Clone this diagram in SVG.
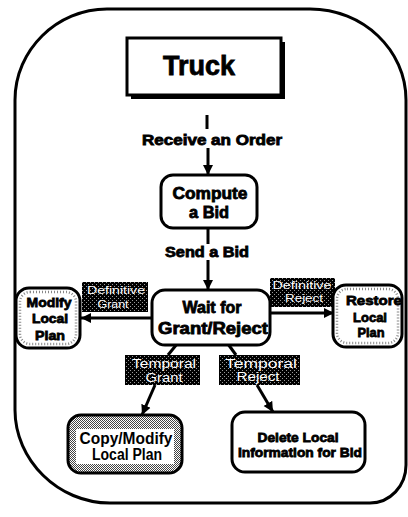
<svg xmlns="http://www.w3.org/2000/svg" width="408" height="517" viewBox="0 0 408 517">
<defs>
<style>
.bt{font-family:"Liberation Sans",Arial,sans-serif;font-weight:bold;fill:#000;stroke:#000;stroke-width:0.8;text-anchor:middle}
.lt{font-family:"Liberation Sans",Arial,sans-serif;fill:#fff;text-anchor:middle;font-size:12px}
.sm{font-size:11px}
.box{fill:#fff;stroke:#000;stroke-width:3}
.lbl{fill:url(#dark);stroke:none}
.con{fill:none;stroke:#000;stroke-width:3}
.speck{fill:none;stroke:#888;stroke-width:2.5;stroke-dasharray:1 2}
.halo{stroke:#fff;stroke-width:2.5;paint-order:stroke}
</style>
<pattern id="dark" width="4" height="4" patternUnits="userSpaceOnUse">
<rect width="4" height="4" fill="#000"/>
<rect x="0" y="0" width="1" height="1" fill="#999"/>
<rect x="2" y="2" width="1" height="1" fill="#999"/>
</pattern>
<pattern id="gray" width="2" height="2" patternUnits="userSpaceOnUse">
<rect width="2" height="2" fill="#fff"/>
<rect x="0" y="0" width="1" height="1" fill="#444"/>
<rect x="1" y="1" width="1" height="1" fill="#444"/>
</pattern>
<marker id="ah" viewBox="0 0 10 10" refX="10" refY="5" markerWidth="10" markerHeight="11" markerUnits="userSpaceOnUse" orient="auto">
<path d="M0,0 L10,5 L0,10 Z" fill="#000"/>
</marker>
</defs>

<g id="frame">
<path d="M15,100 C15,50 57,9 107,9 L310,9 C363,9 406,50 406,100 L406,465 C406,486 390,503 370,503 L110,503 C58,503 15,460 15,410 Z" fill="none" stroke="#000" stroke-width="3"/>
</g>

<g id="connectors">
<path class="con" d="M207,115 V129"/>
<text class="bt" x="212" y="145" font-size="14" textLength="140" lengthAdjust="spacingAndGlyphs">Receive an Order</text>
<path class="con" d="M208,148 V175" marker-end="url(#ah)"/>
<path class="con" d="M208,228 V244"/>
<text class="bt" x="207" y="257" font-size="14" textLength="84" lengthAdjust="spacingAndGlyphs">Send a Bid</text>
<path class="con" d="M208,260 V290" marker-end="url(#ah)"/>
<path class="con" d="M152,318 H81" marker-end="url(#ah)"/>
<path class="con" d="M270,313 H334" marker-end="url(#ah)"/>
<path class="con" d="M177,344 L168,355"/>
<path class="con" d="M155,385 L142,415" marker-end="url(#ah)"/>
<path class="con" d="M228,344 L236,355"/>
<path class="con" d="M257,385 L273,412" marker-end="url(#ah)"/>
<g id="lbl-def-grant">
<rect class="lbl" x="82" y="282" width="66" height="30"/>
<text class="lt sm" x="116" y="294" textLength="58" lengthAdjust="spacingAndGlyphs">Definitive</text>
<text class="lt sm" x="113" y="308" textLength="31" lengthAdjust="spacingAndGlyphs">Grant</text>
</g>
<g id="lbl-def-reject">
<rect class="lbl" x="270" y="278" width="65" height="29"/>
<text class="lt sm" x="302" y="289" textLength="59" lengthAdjust="spacingAndGlyphs">Definitive</text>
<text class="lt sm" x="304" y="302" textLength="38" lengthAdjust="spacingAndGlyphs">Reject</text>
</g>
<g id="lbl-temp-grant">
<rect class="lbl" x="125" y="355" width="75" height="30"/>
<text class="lt" x="164" y="368" textLength="64" lengthAdjust="spacingAndGlyphs">Temporal</text>
<text class="lt" x="164" y="382" textLength="37" lengthAdjust="spacingAndGlyphs">Grant</text>
</g>
<g id="lbl-temp-reject">
<rect class="lbl" x="219" y="355" width="81" height="30"/>
<text class="lt" x="261" y="368" textLength="72" lengthAdjust="spacingAndGlyphs">Temporal</text>
<text class="lt" x="258" y="381" textLength="43" lengthAdjust="spacingAndGlyphs">Reject</text>
</g>
</g>

<g id="truck">
<rect x="131" y="42" width="154" height="57" fill="#000"/>
<rect x="127" y="38" width="154" height="57" class="box" stroke-width="2"/>
<text class="bt" x="199" y="75" font-size="27" textLength="72" lengthAdjust="spacingAndGlyphs">Truck</text>
</g>

<g id="compute">
<rect x="161" y="175" width="96" height="53" rx="12" class="box"/>
<text class="bt" x="210" y="199" font-size="16" textLength="75" lengthAdjust="spacingAndGlyphs">Compute</text>
<text class="bt" x="209" y="218" font-size="16" textLength="40" lengthAdjust="spacingAndGlyphs">a Bid</text>
</g>

<g id="wait">
<rect x="152" y="290" width="118" height="55" rx="13" class="box"/>
<text class="bt" x="212" y="313" font-size="16" textLength="59" lengthAdjust="spacingAndGlyphs">Wait for</text>
<text class="bt" x="213" y="334" font-size="16" textLength="110" lengthAdjust="spacingAndGlyphs">Grant/Reject</text>
</g>

<g id="modify">
<rect x="16" y="288" width="64" height="60" rx="13" class="box"/>
<rect x="20" y="292" width="56" height="52" rx="10" class="speck"/>
<text class="bt" x="49" y="307" font-size="13" textLength="45" lengthAdjust="spacingAndGlyphs">Modify</text>
<text class="bt" x="50" y="323" font-size="13" textLength="36" lengthAdjust="spacingAndGlyphs">Local</text>
<text class="bt" x="50" y="340" font-size="13" textLength="30" lengthAdjust="spacingAndGlyphs">Plan</text>
</g>

<g id="restore">
<rect x="333" y="285" width="69" height="62" rx="13" class="box"/>
<rect x="337" y="289" width="61" height="54" rx="10" class="speck"/>
<text class="bt" x="374" y="305" font-size="13" textLength="56" lengthAdjust="spacingAndGlyphs">Restore</text>
<text class="bt" x="370" y="322" font-size="13" textLength="34" lengthAdjust="spacingAndGlyphs">Local</text>
<text class="bt" x="371" y="337" font-size="13" textLength="27" lengthAdjust="spacingAndGlyphs">Plan</text>
</g>

<g id="copy">
<rect x="68" y="415" width="114" height="58" rx="13" fill="url(#gray)" stroke="#000" stroke-width="3"/>
<rect x="76" y="429" width="98" height="35" fill="#fff"/>
<text class="bt halo" x="126" y="444" font-size="16" textLength="93" lengthAdjust="spacingAndGlyphs">Copy/Modify</text>
<text class="bt halo" x="127" y="460" font-size="16" textLength="70" lengthAdjust="spacingAndGlyphs">Local Plan</text>
</g>

<g id="delete">
<rect x="232" y="412" width="133" height="60" rx="13" class="box"/>
<text class="bt" x="298" y="442" font-size="13" textLength="81" lengthAdjust="spacingAndGlyphs">Delete Local</text>
<text class="bt" x="300" y="457" font-size="13" textLength="124" lengthAdjust="spacingAndGlyphs">Information for Bid</text>
</g>
</svg>
